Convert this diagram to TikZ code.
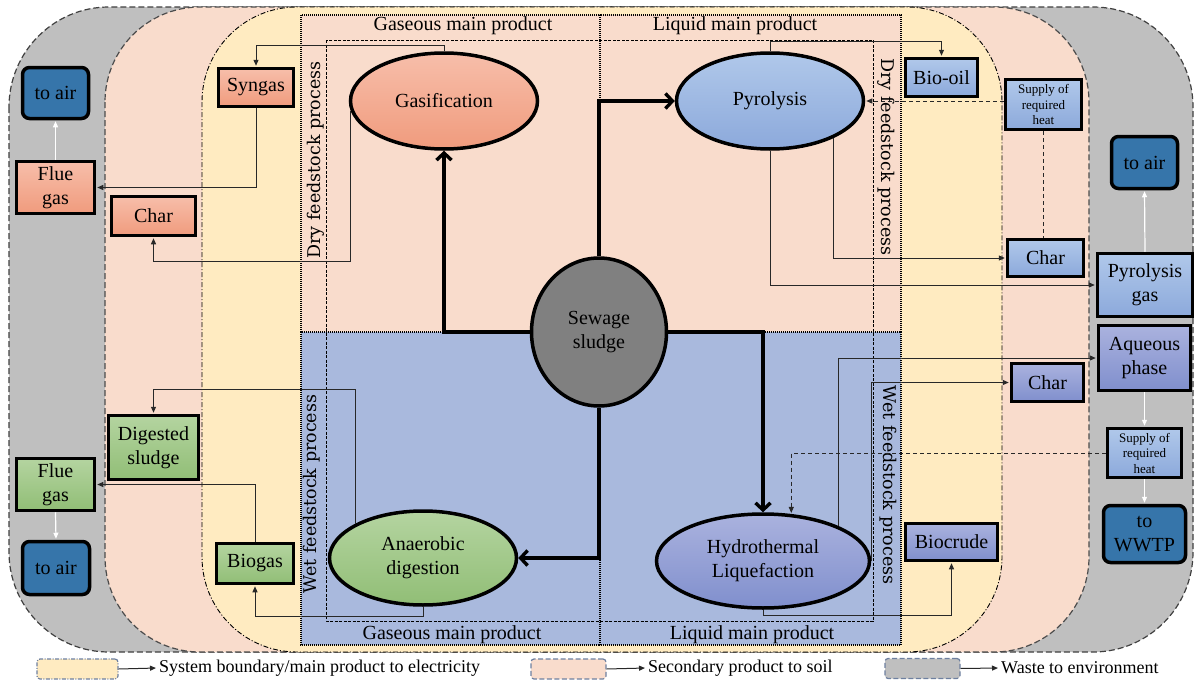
\documentclass[tikz,border=0pt]{standalone}
\usepackage{fontspec}
\setmainfont{Liberation Serif}
\newfontfamily\vfont{DejaVu Serif}
\usetikzlibrary{arrows.meta,shapes.geometric,calc}
\definecolor{rgray}{RGB}{191,191,191}
\definecolor{rsalmon}{RGB}{249,220,204}
\definecolor{ryellow}{RGB}{255,235,193}
\definecolor{rblue}{RGB}{169,185,221}
\definecolor{orT}{RGB}{247,190,170}
\definecolor{orB}{RGB}{240,155,125}
\definecolor{blT}{RGB}{176,200,234}
\definecolor{blB}{RGB}{140,169,219}
\definecolor{puT}{RGB}{170,178,222}
\definecolor{puB}{RGB}{128,143,205}
\definecolor{grT}{RGB}{180,212,160}
\definecolor{grB}{RGB}{145,190,118}
\definecolor{dblue}{RGB}{54,117,170}
\definecolor{slate}{RGB}{110,128,160}
\definecolor{lnk}{RGB}{40,40,40}
\tikzset{
  box/.style={draw=black, line width=3.5pt, align=center, inner sep=0pt,
    font=\fontsize{20}{24}\selectfont},
  orbox/.style={box, top color=orT, bottom color=orB},
  blbox/.style={box, top color=blT, bottom color=blB},
  pubox/.style={box, top color=puT, bottom color=puB},
  grbox/.style={box, top color=grT, bottom color=grB},
  envbox/.style={box, fill=dblue, rounded corners=7pt},
  supbox/.style={blbox, font=\fontsize{13}{15.5}\selectfont},
  proc/.style={ellipse, draw=black, line width=3.5pt, align=center, inner sep=0pt,
    font=\fontsize{20}{24}\selectfont},
  conn/.style={draw=lnk, line width=1pt, -{Triangle[length=6pt,width=5pt]}, shorten >=1pt},
  dconn/.style={conn, dash pattern=on 4pt off 3pt},
  wconn/.style={draw=white, line width=1.2pt, -{Triangle[length=6pt,width=5pt]}, shorten >=1pt},
  mainflow/.style={draw=black, line width=3.4pt, -{Straight Barb[length=7pt,width=15pt]}},
  qlabel/.style={font=\fontsize{20}{24}\selectfont, inner sep=0pt},
  vlabel/.style={font=\vfont\fontsize{17.5}{20}\selectfont, inner sep=0pt},
  legbox/.style={rounded corners=3pt, line width=1.2pt, draw=slate, minimum height=20pt, inner sep=0pt},
  legtext/.style={anchor=west, font=\fontsize{18}{20}\selectfont, inner sep=2pt},
}
\begin{document}
\begin{tikzpicture}[x=1pt,y=-1pt]
\useasboundingbox (0,0) rectangle (1195,680);
\fill[white] (0,0) rectangle (1195,680);
% regions
\draw[fill=rgray, draw=black!75, line width=1.2pt, dash pattern=on 6pt off 3pt, rounded corners=100pt] (9,7) rectangle (1193,652);
\draw[fill=rsalmon, draw=black!70, line width=1.2pt, dash pattern=on 6pt off 3pt, rounded corners=95pt] (105,7) rectangle (1089,652);
\draw[fill=ryellow, draw=black, line width=0.9pt, dash pattern=on 5pt off 2pt on 1pt off 2pt, rounded corners=95pt] (202,7) rectangle (1002,652);
% quadrants
\draw[fill=rsalmon, line width=1.1pt, dash pattern=on 1pt off 1pt] (301,15) rectangle (600,332);
\draw[fill=rsalmon, line width=1.1pt, dash pattern=on 1pt off 1pt] (600,15) rectangle (901,332);
\draw[fill=rblue, line width=1.1pt, dash pattern=on 1pt off 1pt] (301,332) rectangle (600,645);
\draw[fill=rblue, line width=1.1pt, dash pattern=on 1pt off 1pt] (600,332) rectangle (901,645);
\draw[line width=0.9pt, dash pattern=on 3pt off 1.5pt] (326,40) rectangle (873,621);
% quadrant labels
\node[qlabel] (qgt) at (463,26) {Gaseous main product};
\node[qlabel] (qlt) at (735,26) {Liquid main product};
\node[qlabel] (qgb) at (452,635) {Gaseous main product};
\node[qlabel] (qlb) at (752,635) {Liquid main product};
\node[vlabel, rotate=90] (dfl) at (316,160) {Dry feedstock process};
\node[vlabel, rotate=-90] (dfr) at (886,157) {Dry feedstock process};
\node[vlabel, rotate=90] (wfl) at (312,494) {Wet feedstock process};
\node[vlabel, rotate=-90] (wfr) at (888,485) {Wet feedstock process};
% process nodes
\node[proc, top color=orT, bottom color=orB, minimum width=187pt, minimum height=96pt] (gas) at (444,101) {Gasification};
\node[proc, top color=blT, bottom color=blB, minimum width=187pt, minimum height=96pt] (pyr) at (770,101) {Pyrolysis};
\node[proc, top color=grT, bottom color=grB, minimum width=187pt, minimum height=94pt] (ad) at (423,558) {Anaerobic\\digestion};
\node[proc, top color=puT, bottom color=puB, minimum width=213pt, minimum height=94pt] (htl) at (763,561) {Hydrothermal\\Liquefaction};
\node[proc, fill=black!50, minimum width=135pt, minimum height=148pt, text=black] (sew) at (599,332) {Sewage\\sludge};
% product boxes
\node[envbox, minimum width=66pt, minimum height=51pt] (toairA) at (55.5,93) {to air};
\node[orbox, minimum width=78pt, minimum height=52pt] (flueA) at (55.5,187.5) {Flue\\gas};
\node[orbox, minimum width=75pt, minimum height=38pt] (syn) at (256,87.5) {Syngas};
\node[orbox, minimum width=84pt, minimum height=39pt] (charA) at (153.5,216) {Char};
\node[blbox, minimum width=72pt, minimum height=38pt] (bio) at (941.5,77.5) {Bio-oil};
\node[supbox, minimum width=76pt, minimum height=50pt] (supA) at (1043.5,104.5) {Supply of\\required\\heat};
\node[blbox, minimum width=76pt, minimum height=37pt] (charB) at (1045.5,258) {Char};
\node[blbox, minimum width=95pt, minimum height=63pt] (pgas) at (1145,285) {Pyrolysis\\gas};
\node[envbox, minimum width=66pt, minimum height=52pt] (toairB) at (1144.5,162.5) {to air};
\node[grbox, minimum width=90pt, minimum height=64pt] (dig) at (153.5,447.5) {Digested\\sludge};
\node[grbox, minimum width=78pt, minimum height=52pt] (flueB) at (55.5,484.5) {Flue\\gas};
\node[envbox, minimum width=67pt, minimum height=53pt] (toairC) at (56,568) {to air};
\node[grbox, minimum width=77pt, minimum height=40pt] (biogas) at (255,563.5) {Biogas};
\node[pubox, minimum width=92pt, minimum height=65pt] (aq) at (1144.5,358) {Aqueous\\phase};
\node[pubox, minimum width=72pt, minimum height=38pt] (charC) at (1047.5,382.5) {Char};
\node[pubox, minimum width=92pt, minimum height=37pt] (biocr) at (951.5,542) {Biocrude};
\node[supbox, minimum width=74pt, minimum height=49pt] (supB) at (1144.5,453) {Supply of\\required\\heat};
\node[envbox, minimum width=82pt, minimum height=57pt] (wwtp) at (1144.5,534) {to\\WWTP};
% main flows
\draw[mainflow] (sew.west) -| (gas.south);
\draw[mainflow] (sew.north) |- (pyr.west);
\draw[mainflow] (sew.east) -| (htl.north);
\draw[mainflow] (sew.south) |- (ad.east);
% product connectors
\draw[conn] (gas.north) -- ++(0,-6) -| (syn.north);
\draw[conn] (syn.south) |- (flueA.east);
\draw[conn] (gas.186) -- ++(0,151) -| (charA.south);
\draw[conn] (pyr.north) -- ++(0,-10) -| (bio.north);
\draw[dconn] (supA.west |- pyr.east) -- (pyr.east);
\draw[draw=lnk, line width=1pt, dash pattern=on 4pt off 3pt] (supA.south) -- (supA.south |- charB.north);
\draw[conn] (pyr.-30) |- (charB.west);
\draw[conn] (pyr.south) |- (pgas.west);
\draw[conn] (ad.153) -- ++(0,-134) -| (dig.north);
\draw[conn] (ad.south) -- ++(0,10) -| (biogas.south);
\draw[conn] (biogas.north) |- (flueB.east);
\draw[conn] (htl.25) |- (aq.west);
\draw[conn] (htl.east) |- (charC.west);
\draw[conn] (htl.south) -- ++(0,6) -| (biocr.south);
\draw[dconn] (supB.west) -| (htl.59);
% white arrows
\draw[wconn] (flueA.north) -- (toairA.south);
\draw[wconn] (flueB.south) -- (toairC.north);
\draw[wconn] (pgas.north) -- (toairB.south);
\draw[wconn] (aq.south) -- (supB.north);
\draw[wconn] (supB.south) -- (wwtp.north);
% legend
\node[legbox, fill=ryellow, dash pattern=on 4pt off 1.5pt on 1pt off 1.5pt, minimum width=81pt] (lg1) at (77.5,669) {};
\node[legtext] (lt1) at (157,668) {System boundary/main product to electricity};
\node[legbox, fill=rsalmon, dash pattern=on 5pt off 2.5pt, minimum width=75pt] (lg2) at (568.5,669) {};
\node[legtext] (lt2) at (646,668) {Secondary product to soil};
\node[legbox, fill=rgray, dash pattern=on 5pt off 2.5pt, minimum width=75pt] (lg3) at (922.5,668.5) {};
\node[legtext] (lt3) at (999,668) {Waste to environment};
\draw[conn] (lg1.east) -- (lt1.west);
\draw[conn] (lg2.east) -- (lt2.west);
\draw[conn] (lg3.east) -- (lt3.west);
\end{tikzpicture}
\end{document}
